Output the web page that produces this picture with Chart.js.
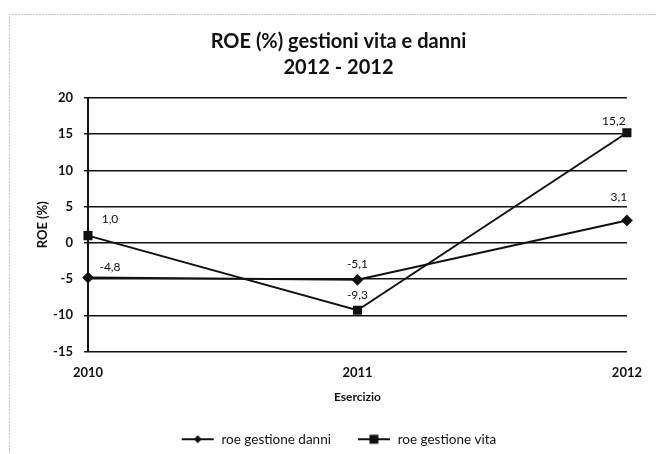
<!DOCTYPE html>
<html>
<head>
<meta charset="utf-8">
<script src="https://cdn.jsdelivr.net/npm/chart.js@4/dist/chart.umd.min.js"></script>
<style>
    html, body { margin: 0; padding: 0; background: #fff; }
    #wrap { width: 656px; height: 454px; }
</style>
</head>
<body>
<div id="wrap"><canvas id="roe-chart" width="656" height="454"></canvas></div>
<script>
const years = ['2010', '2011', '2012'];
const roeDanni = [-4.8, -5.1, 3.1];
const roeVita = [1.0, -9.3, 15.2];
const yTicks = [20, 15, 10, 5, 0, -5, -10, -15];

const FONT = 'Lato, "Open Sans", sans-serif';

function fmt(v) {
    return v.toFixed(1).replace('.', ',');
}

// small line+marker swatch for the legend
function legendSwatch(style, r) {
    const c = document.createElement('canvas');
    c.width = 34; c.height = 14;
    const ctx = c.getContext('2d');
    ctx.strokeStyle = '#111';
    ctx.fillStyle = '#111';
    ctx.lineWidth = 2;
    ctx.beginPath();
    ctx.moveTo(1, 7); ctx.lineTo(33, 7);
    ctx.stroke();
    ctx.beginPath();
    if (style === 'rect') {
        ctx.rect(17 - r, 7 - r, r * 2, r * 2);
    } else {
        ctx.moveTo(17, 7 - r); ctx.lineTo(17 + r, 7); ctx.lineTo(17, 7 + r); ctx.lineTo(17 - r, 7);
        ctx.closePath();
    }
    ctx.fill();
    return c;
}

const frame = {
    id: 'frame',
    afterLayout(chart) {
        // title and legend sit a bit right of the canvas centre in the original
        [chart.titleBlock, chart.legend].forEach(b => {
            if (b) { b.left += 17; b.right += 17; }
        });
    },
    beforeDraw(chart) {
        const ctx = chart.ctx;
        ctx.save();
        ctx.strokeStyle = '#888';
        ctx.setLineDash([1, 2]);
        ctx.lineWidth = 1;
        ctx.strokeRect(9.5, 14.5, 700, 500);
        ctx.restore();
    }
};

// value labels next to each point
const valueLabels = {
    id: 'valueLabels',
    afterDatasetsDraw(chart, args, opts) {
        const ctx = chart.ctx;
        ctx.save();
        ctx.font = '12px ' + FONT;
        ctx.fillStyle = '#111';
        ctx.textAlign = 'center';
        ctx.textBaseline = 'middle';
        chart.data.datasets.forEach((ds, i) => {
            const meta = chart.getDatasetMeta(i);
            meta.data.forEach((pt, j) => {
                const off = opts.offsets[i][j];
                ctx.fillText(fmt(ds.data[j]), pt.x + off[0], pt.y + off[1]);
            });
        });
        ctx.restore();
    }
};

const chart = new Chart(document.getElementById('roe-chart'), {
    type: 'line',
    data: {
        labels: years,
        datasets: [{
            label: 'roe gestione danni',
            data: roeDanni,
            borderColor: '#111',
            backgroundColor: '#111',
            borderWidth: 2,
            pointStyle: 'rectRot',
            pointRadius: 4.5,
            pointBackgroundColor: '#111',
            tension: 0
        }, {
            label: 'roe gestione vita',
            data: roeVita,
            borderColor: '#111',
            backgroundColor: '#111',
            borderWidth: 2,
            pointStyle: 'rect',
            pointRadius: 5,
            pointBackgroundColor: '#111',
            tension: 0
        }]
    },
    options: {
        responsive: false,
        animation: false,
        layout: { padding: { left: 10, right: 23, top: 14, bottom: -2 } },
        scales: {
            x: {
                offset: false,
                grid: { display: false, drawTicks: false },
                border: { display: false },
                afterFit(scale) {
                    scale.height = 55;
                },
                ticks: { color: '#111', font: { family: FONT, size: 13, weight: 'bold' }, padding: 14, maxRotation: 0 },
                title: { display: true, text: 'Esercizio', color: '#111', font: { family: FONT, size: 12, weight: 'bold' }, padding: { top: 8, bottom: 2 } }
            },
            y: {
                min: -15,
                max: 20,
                afterBuildTicks(scale) {
                    scale.ticks = yTicks.map(v => ({ value: v }));
                },
                afterFit(scale) {
                    scale.width = 78;
                },
                grid: { color: '#111', lineWidth: 1.5, drawTicks: true, tickLength: 4 },
                border: { color: '#111', width: 2 },
                ticks: { color: '#111', font: { family: FONT, size: 13, weight: 'bold' }, padding: 11 },
                title: { display: true, text: 'ROE (%)', color: '#111', font: { family: FONT, size: 13, weight: 'bold' }, padding: { top: 25, bottom: 4 } }
            }
        },
        plugins: {
            title: {
                display: true,
                text: ['ROE (%) gestioni vita e danni', '2012 - 2012'],
                color: '#111',
                font: { family: FONT, size: 20, weight: 'bold', lineHeight: 1.3 },
                padding: { top: 15, bottom: 17 }
            },
            legend: {
                position: 'bottom',
                labels: {
                    color: '#111',
                    font: { family: FONT, size: 13.5 },
                    usePointStyle: true,
                    pointStyleWidth: 34,
                    padding: 26,
                    generateLabels(chart) {
                        return chart.data.datasets.map((ds, i) => ({
                            text: ds.label,
                            datasetIndex: i,
                            pointStyle: legendSwatch(ds.pointStyle, ds.pointRadius - 0.5),
                            fontColor: '#111',
                            lineWidth: 0,
                            hidden: false
                        }));
                    }
                }
            },
            tooltip: { enabled: false },
            valueLabels: {
                offsets: [
                    [[22, -10], [0, -16], [-8, -23]],
                    [[22, -16], [0, -15], [-13, -12]]
                ]
            }
        }
    },
    plugins: [frame, valueLabels]
});
</script>
</body>
</html>
